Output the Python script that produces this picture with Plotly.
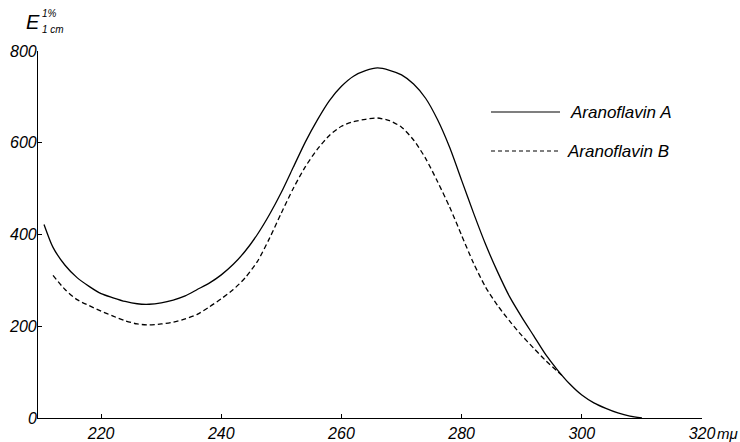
import plotly.graph_objects as go

# Wavelength (m\u03bc) and E(1%,1cm) values
wl_a = [210.5, 212, 214, 216, 218, 220, 222, 224, 226, 228, 230, 232, 234, 236, 238,
        240, 242, 244, 246, 248, 250, 252, 254, 256, 258, 260, 262, 264, 266, 268,
        270, 272, 274, 276, 278, 280, 282, 284, 286, 288, 290, 292, 294, 296, 298,
        300, 302, 304, 306, 308, 310]
e_a = [422, 372, 333, 306, 287, 271, 262, 254, 249, 248, 251, 257, 266, 280, 294,
       312, 335, 364, 400, 443, 492, 547, 602, 650, 692, 723, 745, 757, 763, 758,
       748, 728, 697, 650, 590, 518, 446, 378, 318, 264, 220, 179, 138, 104, 74,
       50, 33, 21, 11, 4, 0]

wl_b = [212, 214, 216, 218, 220, 222, 224, 226, 228, 230, 232, 234, 236, 238, 240,
        242, 244, 246, 248, 250, 252, 254, 256, 258, 260, 262, 264, 266, 268, 270,
        272, 274, 276, 278, 280, 282, 284, 286, 288, 290, 292, 294, 296, 297]
e_b = [311, 280, 258, 245, 233, 222, 212, 205, 203, 205, 209, 216, 226, 242, 260,
       280, 306, 341, 391, 447, 501, 548, 586, 616, 636, 646, 651, 654, 648, 634,
       606, 566, 515, 460, 398, 337, 285, 245, 211, 180, 152, 125, 101, 89]

x_ticks = [220, 240, 260, 280, 300, 320]
y_ticks = [0, 200, 400, 600, 800]
series_names = ["Aranoflavin A", "Aranoflavin B"]

FONT = "Liberation Sans, Arial, sans-serif"

fig = go.Figure()
fig.add_trace(go.Scatter(x=wl_a, y=e_a, mode="lines", name=series_names[0],
                         line=dict(color="black", width=1.3, shape="spline", smoothing=0.7)))
fig.add_trace(go.Scatter(x=wl_b, y=e_b, mode="lines", name=series_names[1],
                         line=dict(color="black", width=1.3, dash="5px,3px",
                                   shape="spline", smoothing=0.7)))

L, R, T, B = 38, 38, 51, 24
W, H = 740, 442
pw, ph = W - L - R, H - T - B


def px(xp):
    return (xp - L) / pw


def py(yp):
    return (H - B - yp) / ph


fig.update_layout(
    width=W, height=H,
    margin=dict(l=L, r=R, t=T, b=B, pad=0, autoexpand=False),
    paper_bgcolor="white", plot_bgcolor="white",
    showlegend=False,
    font=dict(family=FONT, color="black", size=16),
    xaxis=dict(range=[209.5, 320], tickvals=x_ticks, ticktext=[str(v) for v in x_ticks],
               showgrid=False, zeroline=False, showline=True, linecolor="black", linewidth=1.3,
               ticks="inside", ticklen=4, tickcolor="black", tickwidth=1, automargin=False,
               tickfont=dict(family=FONT, size=16, style="italic"),
               ticklabelstandoff=1),
    yaxis=dict(range=[0, 800], tickvals=y_ticks, showticklabels=False,
               showgrid=False, zeroline=False, showline=True, linecolor="black", linewidth=1.3,
               ticks="inside", ticklen=4, tickcolor="black", tickwidth=1, automargin=False),
)

# y tick labels placed close to the axis, as in the reference
for v in y_ticks:
    fig.add_annotation(xref="paper", yref="y", x=px(39), y=v, text=str(v),
                       showarrow=False, xanchor="right", yanchor="middle",
                       font=dict(family=FONT, size=16, style="italic"))

# legend drawn as in the reference
fig.add_shape(type="line", xref="paper", yref="paper", x0=px(491), x1=px(560),
              y0=py(112), y1=py(112), line=dict(color="black", width=1.2))
fig.add_shape(type="line", xref="paper", yref="paper", x0=px(491), x1=px(558),
              y0=py(151), y1=py(151), line=dict(color="black", width=1.2, dash="4px,3px"))
fig.add_annotation(xref="paper", yref="paper", x=px(568), y=py(112), text=series_names[0],
                   showarrow=False, xanchor="left", yanchor="middle",
                   font=dict(family=FONT, size=17, style="italic"))
fig.add_annotation(xref="paper", yref="paper", x=px(565), y=py(151), text=series_names[1],
                   showarrow=False, xanchor="left", yanchor="middle",
                   font=dict(family=FONT, size=17, style="italic"))

# axis titles
fig.add_annotation(xref="paper", yref="paper", x=px(715), y=py(433), text="m\u03bc",
                   showarrow=False, xanchor="left", yanchor="middle",
                   font=dict(family=FONT, size=15, style="italic"))
fig.add_annotation(xref="paper", yref="paper", x=px(24), y=py(22), text="E",
                   showarrow=False, xanchor="left", yanchor="middle",
                   font=dict(family=FONT, size=20, style="italic"))
fig.add_annotation(xref="paper", yref="paper", x=px(40), y=py(14), text="1%",
                   showarrow=False, xanchor="left", yanchor="middle",
                   font=dict(family=FONT, size=10, style="italic"))
fig.add_annotation(xref="paper", yref="paper", x=px(40), y=py(30), text="1 cm",
                   showarrow=False, xanchor="left", yanchor="middle",
                   font=dict(family=FONT, size=10, style="italic"))

fig.write_html("out.html")
